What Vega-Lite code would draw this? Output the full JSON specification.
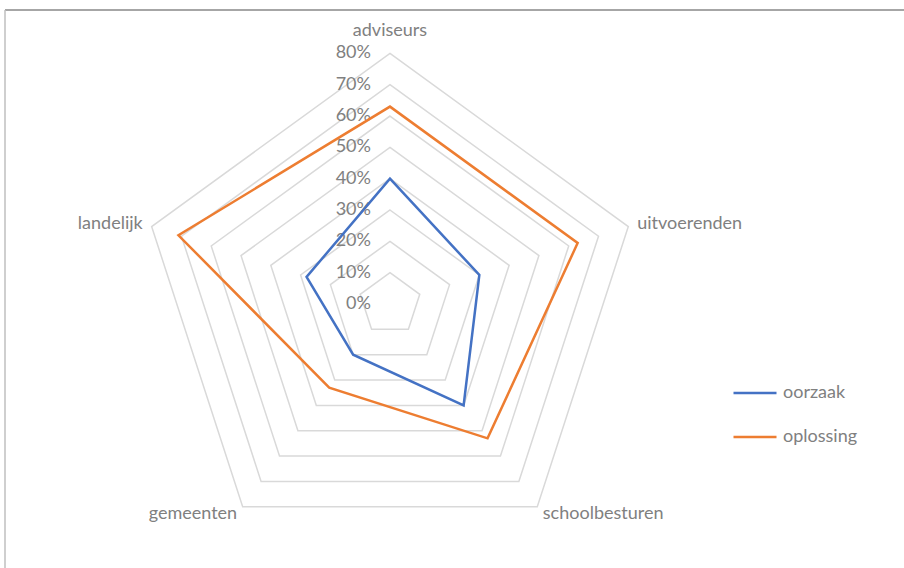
{
  "$schema": "https://vega.github.io/schema/vega-lite/v6.json",
  "width": 899,
  "height": 558,
  "autosize": "none",
  "padding": {"left": 5, "top": 10, "right": 0, "bottom": 0},
  "background": "white",
  "config": {"view": {"stroke": null}, "font": "Lato"},
  "datasets": {
    "series": [
      {"serie": "oorzaak", "cat": "adviseurs", "idx": 0, "value": 40},
      {"serie": "oorzaak", "cat": "uitvoerenden", "idx": 1, "value": 30},
      {"serie": "oorzaak", "cat": "schoolbesturen", "idx": 2, "value": 40},
      {"serie": "oorzaak", "cat": "gemeenten", "idx": 3, "value": 20},
      {"serie": "oorzaak", "cat": "landelijk", "idx": 4, "value": 28},
      {"serie": "oplossing", "cat": "adviseurs", "idx": 0, "value": 63},
      {"serie": "oplossing", "cat": "uitvoerenden", "idx": 1, "value": 63},
      {"serie": "oplossing", "cat": "schoolbesturen", "idx": 2, "value": 53},
      {"serie": "oplossing", "cat": "gemeenten", "idx": 3, "value": 33},
      {"serie": "oplossing", "cat": "landelijk", "idx": 4, "value": 71}
    ],
    "rings": [
      {"level": 0, "label": "0%", "idx": [0, 1, 2, 3, 4]},
      {"level": 10, "label": "10%", "idx": [0, 1, 2, 3, 4]},
      {"level": 20, "label": "20%", "idx": [0, 1, 2, 3, 4]},
      {"level": 30, "label": "30%", "idx": [0, 1, 2, 3, 4]},
      {"level": 40, "label": "40%", "idx": [0, 1, 2, 3, 4]},
      {"level": 50, "label": "50%", "idx": [0, 1, 2, 3, 4]},
      {"level": 60, "label": "60%", "idx": [0, 1, 2, 3, 4]},
      {"level": 70, "label": "70%", "idx": [0, 1, 2, 3, 4]},
      {"level": 80, "label": "80%", "idx": [0, 1, 2, 3, 4]}
    ],
    "cats": [
      {"cat": "adviseurs", "idx": 0},
      {"cat": "uitvoerenden", "idx": 1},
      {"cat": "schoolbesturen", "idx": 2},
      {"cat": "gemeenten", "idx": 3},
      {"cat": "landelijk", "idx": 4}
    ]
  },
  "layer": [
    {
      "data": {"values": [{}]},
      "mark": {"type": "rule", "color": "#a6a6a6", "strokeWidth": 2},
      "encoding": {
        "y": {"datum": 93.84, "type": "quantitative", "scale": {"domain": [-84.26, 93.84], "nice": false, "zero": false}, "axis": null}
      }
    },
    {
      "data": {"values": [{}]},
      "mark": {"type": "rule", "color": "#bfbfbf", "strokeWidth": 1.5},
      "encoding": {
        "x": {"datum": -122.9, "type": "quantitative", "scale": {"domain": [-122.9, 164.1], "nice": false, "zero": false}, "axis": null}
      }
    },
    {
      "data": {"name": "rings"},
      "transform": [
        {"filter": "datum.level > 0"},
        {"flatten": ["idx"]},
        {"calculate": "datum.idx * 2 * PI / 5", "as": "angle"},
        {"calculate": "datum.level * sin(datum.angle)", "as": "px"},
        {"calculate": "datum.level * cos(datum.angle)", "as": "py"}
      ],
      "mark": {"type": "line", "interpolate": "linear-closed", "color": "#d9d9d9", "strokeWidth": 1.5},
      "encoding": {
        "x": {"field": "px", "type": "quantitative", "scale": {"domain": [-122.9, 164.1], "nice": false, "zero": false}, "axis": null},
        "y": {"field": "py", "type": "quantitative", "scale": {"domain": [-84.26, 93.84], "nice": false, "zero": false}, "axis": null},
        "detail": {"field": "level", "type": "nominal"},
        "order": {"field": "idx", "type": "quantitative"}
      }
    },
    {
      "data": {"name": "rings"},
      "mark": {"type": "text", "align": "right", "baseline": "middle", "dx": -19, "fontSize": 18, "color": "#808080"},
      "encoding": {
        "x": {"datum": 0, "type": "quantitative", "scale": {"domain": [-122.9, 164.1], "nice": false, "zero": false}, "axis": null},
        "y": {"field": "level", "type": "quantitative", "scale": {"domain": [-84.26, 93.84], "nice": false, "zero": false}, "axis": null},
        "text": {"field": "label", "type": "nominal"}
      }
    },
    {
      "data": {"name": "series"},
      "transform": [
        {"calculate": "datum.idx * 2 * PI / 5", "as": "angle"},
        {"calculate": "datum.value * sin(datum.angle)", "as": "px"},
        {"calculate": "datum.value * cos(datum.angle)", "as": "py"}
      ],
      "mark": {"type": "line", "interpolate": "linear-closed", "strokeWidth": 2.5},
      "encoding": {
        "x": {"field": "px", "type": "quantitative", "scale": {"domain": [-122.9, 164.1], "nice": false, "zero": false}, "axis": null},
        "y": {"field": "py", "type": "quantitative", "scale": {"domain": [-84.26, 93.84], "nice": false, "zero": false}, "axis": null},
        "order": {"field": "idx", "type": "quantitative"},
        "color": {
          "field": "serie",
          "type": "nominal",
          "scale": {"domain": ["oorzaak", "oplossing"], "range": ["#4472C4", "#ED7D31"]},
          "legend": {
            "orient": "none",
            "legendX": 727,
            "legendY": 360,
            "title": null,
            "symbolType": "stroke",
            "symbolSize": 1849,
            "symbolStrokeWidth": 2.5,
            "labelFontSize": 18,
            "labelColor": "#808080",
            "labelFont": "Lato",
            "labelOffset": 5,
            "rowPadding": 12,
            "padding": 0
          }
        }
      }
    },
    {
      "data": {"name": "cats"},
      "transform": [
        {"filter": "datum.idx == 0"},
        {"calculate": "datum.idx * 2 * PI / 5", "as": "angle"},
        {"calculate": "83 * sin(datum.angle)", "as": "px"},
        {"calculate": "83 * cos(datum.angle)", "as": "py"}
      ],
      "mark": {"type": "text", "align": "center", "baseline": "middle", "dy": -13, "fontSize": 18, "color": "#808080"},
      "encoding": {
        "x": {"field": "px", "type": "quantitative", "scale": {"domain": [-122.9, 164.1], "nice": false, "zero": false}, "axis": null},
        "y": {"field": "py", "type": "quantitative", "scale": {"domain": [-84.26, 93.84], "nice": false, "zero": false}, "axis": null},
        "text": {"field": "cat", "type": "nominal"}
      }
    },
    {
      "data": {"name": "cats"},
      "transform": [
        {"filter": "datum.idx == 1 || datum.idx == 2"},
        {"calculate": "datum.idx * 2 * PI / 5", "as": "angle"},
        {"calculate": "83 * sin(datum.angle)", "as": "px"},
        {"calculate": "83 * cos(datum.angle)", "as": "py"}
      ],
      "mark": {"type": "text", "align": "left", "baseline": "middle", "fontSize": 18, "color": "#808080"},
      "encoding": {
        "x": {"field": "px", "type": "quantitative", "scale": {"domain": [-122.9, 164.1], "nice": false, "zero": false}, "axis": null},
        "y": {"field": "py", "type": "quantitative", "scale": {"domain": [-84.26, 93.84], "nice": false, "zero": false}, "axis": null},
        "text": {"field": "cat", "type": "nominal"}
      }
    },
    {
      "data": {"name": "cats"},
      "transform": [
        {"filter": "datum.idx == 3 || datum.idx == 4"},
        {"calculate": "datum.idx * 2 * PI / 5", "as": "angle"},
        {"calculate": "83 * sin(datum.angle)", "as": "px"},
        {"calculate": "83 * cos(datum.angle)", "as": "py"}
      ],
      "mark": {"type": "text", "align": "right", "baseline": "middle", "fontSize": 18, "color": "#808080"},
      "encoding": {
        "x": {"field": "px", "type": "quantitative", "scale": {"domain": [-122.9, 164.1], "nice": false, "zero": false}, "axis": null},
        "y": {"field": "py", "type": "quantitative", "scale": {"domain": [-84.26, 93.84], "nice": false, "zero": false}, "axis": null},
        "text": {"field": "cat", "type": "nominal"}
      }
    }
  ]
}
